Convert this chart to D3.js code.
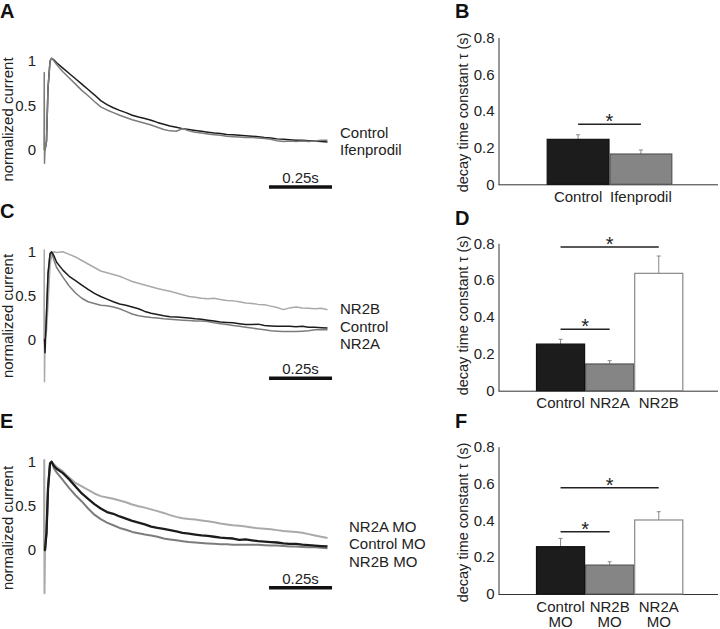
<!DOCTYPE html>
<html><head><meta charset="utf-8">
<script src="https://cdn.jsdelivr.net/npm/d3@7"></script>
<style>
body{margin:0;background:#fff;}
svg{display:block;font-family:"Liberation Sans",Arial,sans-serif;}
</style></head><body>
<svg id="chart" width="720" height="629"></svg>
<script>
// ---------- DATA ----------
// time points (s) shared by all traces
const traceTime = [0,0.001,0.002,0.004,0.01,0.016,0.024,0.03,0.04,
  0.05,0.075,0.1,0.125,0.15,0.175,0.2,0.225,0.25,0.275,0.3,0.325,0.35,0.375,0.4,0.425,0.45,0.475,0.5,
  0.525,0.55,0.575,0.6,0.625,0.65,0.675,0.7,0.725,0.75,0.775,0.8,0.825,0.85,0.875,0.9,0.925,0.95,0.975,
  1.0,1.025,1.05,1.075,1.1,1.125];

// Panel A
const aControl = [0,0,0,0,0.1,0.7,1.0,1.03,1.01,
  0.98,0.92,0.86,0.80,0.74,0.68,0.62,0.555,0.51,0.475,0.445,0.42,0.39,0.37,0.355,0.335,0.31,0.29,0.27,0.255,0.24,0.23,0.22,0.21,0.20,0.19,0.185,0.175,0.17,0.165,0.16,0.155,0.15,0.14,0.135,0.125,0.12,0.115,0.11,0.11,0.105,0.10,0.095,0.09];
const aIfenprodil = [0,0.87,-0.15,0,0.1,0.7,1.0,1.03,1.0,
  0.96,0.88,0.81,0.74,0.67,0.61,0.545,0.485,0.45,0.42,0.39,0.365,0.34,0.32,0.30,0.28,0.255,0.23,0.215,0.21,0.24,0.215,0.20,0.19,0.18,0.17,0.165,0.155,0.15,0.145,0.14,0.14,0.135,0.13,0.12,0.105,0.095,0.10,0.095,0.10,0.095,0.10,0.11,0.11];

// Panel C
const cNR2B = [0,1.02,-0.48,0,0.1,0.4,0.85,0.95,1.0,
  0.99,1.0,0.97,0.94,0.90,0.86,0.82,0.78,0.76,0.74,0.72,0.69,0.66,0.64,0.62,0.60,0.58,0.565,0.55,0.53,0.51,0.49,0.48,0.47,0.465,0.47,0.455,0.445,0.44,0.43,0.415,0.41,0.40,0.395,0.38,0.365,0.34,0.36,0.37,0.36,0.355,0.35,0.355,0.34];
const cControl = [0,0,0,-0.15,0.3,0.75,0.98,1.0,0.95,
  0.88,0.79,0.72,0.67,0.62,0.57,0.525,0.49,0.46,0.43,0.405,0.39,0.37,0.35,0.32,0.30,0.285,0.27,0.26,0.255,0.25,0.245,0.235,0.23,0.22,0.21,0.20,0.195,0.19,0.18,0.17,0.17,0.175,0.16,0.155,0.15,0.15,0.15,0.145,0.15,0.14,0.14,0.135,0.13];
const cNR2A = [0,0,0,-0.05,0.3,0.75,0.97,0.99,0.9,
  0.82,0.71,0.61,0.53,0.47,0.43,0.41,0.39,0.385,0.37,0.35,0.32,0.29,0.27,0.26,0.25,0.245,0.235,0.23,0.225,0.22,0.215,0.21,0.21,0.205,0.19,0.18,0.17,0.16,0.15,0.14,0.13,0.12,0.11,0.10,0.095,0.09,0.09,0.09,0.095,0.10,0.11,0.11,0.11];

// Panel E
const eNR2AMO = [0,1.02,-0.49,0,0.2,0.7,0.98,1.0,0.97,
  0.94,0.89,0.82,0.76,0.72,0.68,0.64,0.61,0.595,0.58,0.56,0.54,0.515,0.495,0.48,0.46,0.44,0.42,0.395,0.375,0.36,0.35,0.345,0.335,0.325,0.315,0.30,0.29,0.28,0.275,0.265,0.255,0.245,0.24,0.235,0.225,0.215,0.21,0.205,0.195,0.18,0.165,0.15,0.135];
const eControlMO = [0,0,0,0,0.2,0.7,0.98,1.0,0.95,
  0.92,0.87,0.80,0.72,0.64,0.58,0.52,0.47,0.43,0.41,0.38,0.355,0.33,0.31,0.29,0.265,0.25,0.24,0.225,0.21,0.195,0.185,0.175,0.165,0.16,0.15,0.14,0.135,0.13,0.115,0.12,0.11,0.10,0.095,0.09,0.085,0.075,0.07,0.07,0.06,0.055,0.05,0.045,0.04];
const eNR2BMO = [0,0,0,0,0.2,0.7,0.98,1.0,0.92,
  0.88,0.79,0.70,0.62,0.55,0.47,0.40,0.35,0.31,0.28,0.25,0.23,0.205,0.19,0.175,0.165,0.15,0.13,0.12,0.11,0.10,0.09,0.085,0.08,0.075,0.07,0.065,0.065,0.06,0.06,0.06,0.06,0.06,0.055,0.05,0.05,0.045,0.04,0.04,0.035,0.03,0.03,0.025,0.02];

const traceTicks = [0, 0.5, 1];
const scaleBarLabel = "0.25s";
const scaleBarLength = 0.25;

// Bar panels
const bCats = ["Control","Ifenprodil"];
const bMeans = [0.245, 0.165];
const bErrs = [0.025, 0.022];
const dCats = ["Control","NR2A","NR2B"];
const dMeans = [0.253, 0.145, 0.637];
const dErrs = [0.026, 0.018, 0.094];
const fCats = ["Control MO","NR2B MO","NR2A MO"];
const fMeans = [0.257, 0.157, 0.402];
const fErrs = [0.045, 0.018, 0.045];
const barTicks = [0, 0.2, 0.4, 0.6, 0.8];

// significance brackets [from, to, level]
const bSig = [["Control","Ifenprodil",0.327]];
const dSig = [["Control","NR2B",0.78],["Control","NR2A",0.333]];
const fSig = [["Control MO","NR2A MO",0.577],["Control MO","NR2B MO",0.338]];

// ---------- DRAW ----------
const svg = d3.select("#chart");
const BLACK = "#1c1c1c", GRAY = "#7c7c7c", LIGHT = "#a9a9a9";
const FS = 15;

function panelLetter(ch, x, y){
  svg.append("text").attr("x",x).attr("y",y).attr("font-size",20).attr("font-weight","bold")
    .attr("fill","#111").text(ch);
}

function tracePanel(o){
  const x = d3.scaleLinear().domain([0,1.13]).range([44, 44+1.13*252]);
  const y = d3.scaleLinear().domain([0,1]).range([o.y0, o.y1]);
  const g = svg.append("g");
  const ax = g.append("g").attr("transform","translate(40,0)")
    .call(d3.axisLeft(y).tickValues(traceTicks).tickSize(0).tickPadding(4).tickFormat(d=>String(d)));
  ax.select(".domain").remove();
  ax.selectAll("text").attr("font-size",FS).attr("fill","#222").attr("font-family","Liberation Sans, Arial, sans-serif");
  g.append("text").attr("transform",`translate(12.5,${o.labelY}) rotate(-90)`)
    .attr("text-anchor","middle").attr("font-size",FS).attr("fill","#222").text("normalized current");
  const line = d3.line().x((d,i)=>x(traceTime[i])).y(d=>y(d));
  o.traces.forEach(t=>{
    g.append("path").datum(t.values).attr("d",line).attr("fill","none")
      .attr("stroke",t.color).attr("stroke-width",t.w||1.5).attr("stroke-linejoin","round");
  });
  o.labels.forEach((l,i)=>{
    g.append("text").attr("x",o.labelX).attr("y",o.labelBase + i*o.labelStep)
      .attr("font-size",FS).attr("fill","#222").text(l);
  });
  // scale bar
  const sb0 = 0.893;
  g.append("line").attr("x1",x(sb0)).attr("x2",x(sb0+scaleBarLength))
    .attr("y1",o.barY).attr("y2",o.barY).attr("stroke","#111").attr("stroke-width",3.5);
  g.append("text").attr("x",(x(sb0)+x(sb0+scaleBarLength))/2).attr("y",o.barY-4)
    .attr("text-anchor","middle").attr("font-size",FS).attr("fill","#222").text(scaleBarLabel);
}

function barPanel(o){
  const x = d3.scaleBand().domain(o.cats).range(o.xr).padding(0);
  const y = d3.scaleLinear().domain([0,0.8]).range([o.y0, o.y1]);
  const g = svg.append("g");
  const ax = g.append("g").attr("transform","translate(498.5,0)")
    .call(d3.axisLeft(y).tickValues(barTicks).tickSize(0).tickSizeOuter(0).tickPadding(4).tickFormat(d=>d===0?"0":d3.format(".1f")(d)));
  ax.select(".domain").attr("stroke","#333");
  ax.selectAll("text").attr("font-size",FS).attr("fill","#222").attr("font-family","Liberation Sans, Arial, sans-serif");
  g.append("line").attr("x1",498.5).attr("x2",718).attr("y1",y(0)+0.5).attr("y2",y(0)+0.5).attr("stroke","#333");
  g.append("text").attr("transform",`translate(468,${o.labelY}) rotate(-90)`)
    .attr("text-anchor","middle").attr("font-size",14.5).attr("fill","#222").text("decay time constant τ (s)");
  const fills = o.fills;
  o.cats.forEach((c,i)=>{
    const cx = x(c)+x.bandwidth()/2;
    // error bar
    g.append("line").attr("x1",cx).attr("x2",cx).attr("y1",y(o.means[i])).attr("y2",y(o.means[i]+o.errs[i]))
      .attr("stroke","#888").attr("stroke-width",1);
    g.append("line").attr("x1",cx-2).attr("x2",cx+2).attr("y1",y(o.means[i]+o.errs[i])).attr("y2",y(o.means[i]+o.errs[i]))
      .attr("stroke","#888").attr("stroke-width",1);
    g.append("rect").attr("x",x(c)+0.5).attr("y",y(o.means[i])).attr("width",x.bandwidth()-1)
      .attr("height",y(0)-y(o.means[i])).attr("fill",fills[i][0]).attr("stroke",fills[i][1]).attr("stroke-width",1.2);
    const parts = c.split(" ");
    parts.forEach((p,k)=>{
      g.append("text").attr("x",cx).attr("y",y(0)+17.5+k*15.5).attr("text-anchor","middle")
        .attr("font-size",FS).attr("fill","#222").text(p);
    });
  });
  o.sig.forEach(s=>{
    const x1 = x(s[0])+x.bandwidth()/2, x2 = x(s[1])+x.bandwidth()/2, yy = y(s[2]);
    g.append("line").attr("x1",x1).attr("x2",x2).attr("y1",yy).attr("y2",yy).attr("stroke","#222").attr("stroke-width",1.5);
    g.append("text").attr("x",(x1+x2)/2).attr("y",yy+4).attr("text-anchor","middle").attr("font-size",20).attr("fill","#222").text("*");
  });
}

panelLetter("A",0,18); panelLetter("B",455,18);
panelLetter("C",0,218); panelLetter("D",455,225);
panelLetter("E",0,428); panelLetter("F",455,428);

tracePanel({y0:150, y1:61, labelY:119.5, labelX:340, labelBase:137.5, labelStep:17.5, barY:187,
  labels:["Control","Ifenprodil"],
  traces:[{values:aControl,color:BLACK},{values:aIfenprodil,color:GRAY}]});
tracePanel({y0:339.5, y1:251.7, labelY:316, labelX:340, labelBase:314, labelStep:17.5, barY:378.3,
  labels:["NR2B","Control","NR2A"],
  traces:[{values:cNR2B,color:LIGHT},{values:cNR2A,color:GRAY},{values:cControl,color:BLACK}]});
tracePanel({y0:550, y1:461.7, labelY:528, labelX:349, labelBase:532, labelStep:17.3, barY:587.7,
  labels:["NR2A MO","Control MO","NR2B MO"],
  traces:[{values:eNR2AMO,color:LIGHT,w:2},{values:eNR2BMO,color:GRAY,w:2},{values:eControlMO,color:BLACK,w:2.3}]});

barPanel({cats:bCats, means:bMeans, errs:bErrs, xr:[546.7,672.3], y0:184.3, y1:37.5, labelY:112.5,
  fills:[["#1c1c1c","#111"],["#858585","#555"]], sig:bSig});
barPanel({cats:dCats, means:dMeans, errs:dErrs, xr:[536,683.3], y0:390.7, y1:243.3, labelY:315.5,
  fills:[["#1c1c1c","#111"],["#858585","#555"],["#ffffff","#888"]], sig:dSig});
barPanel({cats:fCats, means:fMeans, errs:fErrs, xr:[536,683.3], y0:594, y1:446.7, labelY:522.5,
  fills:[["#1c1c1c","#111"],["#858585","#555"],["#ffffff","#888"]], sig:fSig});
</script>
</body></html>
